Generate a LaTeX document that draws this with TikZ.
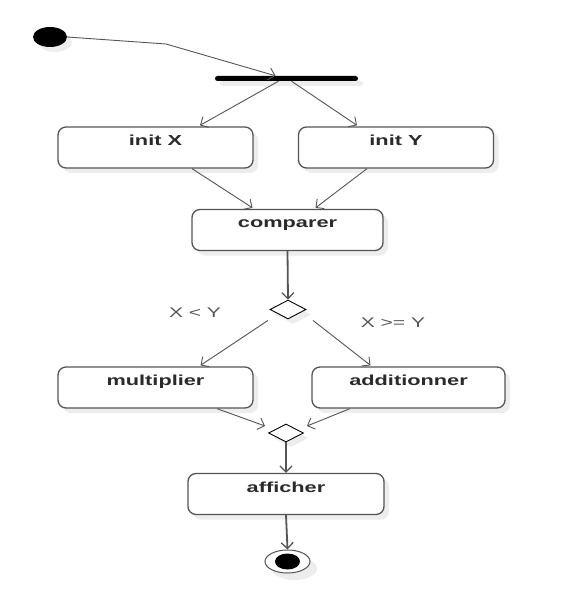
\documentclass[tikz,border=0pt]{standalone}
\usepackage{fontspec}
\usetikzlibrary{shapes.geometric,arrows.meta,calc,shadows}
\newfontfamily\boxfont[FakeStretch=1.5]{Liberation Sans}
\newfontfamily\lblfont[FakeStretch=1.5]{Liberation Sans}
\definecolor{linegray}{HTML}{555555}
\definecolor{txtgray}{HTML}{2A2A2A}
\tikzset{
  shd/.style={drop shadow={shadow xshift=5pt,shadow yshift=-5pt,fill=black,opacity=0.07}},
  actbox/.style={draw=linegray,line width=1.3pt,rounded corners=8pt,fill=white,shd,
    minimum width=195pt,inner sep=0pt,text height=18.5pt,text depth=22.5pt,
    font=\boxfont\bfseries\fontsize{14.5}{15}\selectfont,text=txtgray},
  decis/.style={diamond,draw=black,line width=0.9pt,fill=white,shd,inner sep=0pt,
    minimum width=36pt,minimum height=19pt,aspect=1.9},
  flow/.style={draw=linegray,line width=0.9pt,-{Straight Barb[length=6pt,width=12pt,line width=0.9pt]}},
  flowthick/.style={draw=linegray,line width=1.8pt,-{Straight Barb[length=6pt,width=12pt,line width=1.3pt]}},
  guard/.style={font=\lblfont\fontsize{14}{15}\selectfont,text=txtgray!80}
}
\begin{document}
\begin{tikzpicture}[x=1pt,y=-1pt]
\useasboundingbox[fill=white] (0,0) rectangle (579,609);
% nodes
\node[ellipse,fill=black,minimum width=34pt,minimum height=20pt,inner sep=0pt,shd] (init) at (50,37) {};
\node[rectangle,fill=black,rounded corners=2.5pt,minimum width=143pt,minimum height=5pt,inner sep=0pt,shd] (fork) at (286.5,78.5) {};
\node[actbox] (initX) at (155.5,147.5) {init X};
\node[actbox] (initY) at (396,147.5) {init Y};
\node[actbox,minimum width=191pt] (comparer) at (287.5,230) {comparer};
\node[decis] (dec) at (288,309.5) {};
\node[actbox] (mult) at (155.5,387.5) {multiplier};
\node[actbox,minimum width=193pt] (add) at (408.5,387.5) {additionner};
\node[decis,minimum width=35pt,minimum height=18pt] (merge) at (286,433) {};
\node[actbox,minimum width=196pt] (aff) at (286,494) {afficher};
\node[ellipse,draw=linegray,line width=1pt,fill=white,minimum width=45pt,minimum height=23pt,inner sep=0pt,
  drop shadow={shadow xshift=7pt,shadow yshift=-7pt,fill=black,opacity=0.07}] (final) at (287.5,561.5) {};
\node[ellipse,fill=black,minimum width=25pt,minimum height=16pt,inner sep=0pt] (finaldot) at (final.center) {};
% guards
\node[guard] (lt) at (195,313) {X < Y};
\node[guard] (ge) at (393,323) {X >= Y};
% connectors
\coordinate (bend) at (166,44);
\draw[flow] (init.east) -- (bend) -- ($(fork.north)+(-11,0)$);
\draw[flow] ($(fork.south)+(-8,0)$) -- ($(initX.north)+(44.5,-1)$);
\draw[flow] ($(fork.south)+(5,0)$) -- ($(initY.north)+(-39,-1)$);
\draw[flow] ($(initX.south)+(36.5,0)$) -- ($(comparer.north)+(-35,-1)$);
\draw[flow] ($(initY.south)+(-29,0)$) -- ($(comparer.north)+(28,-1)$);
\draw[flowthick] (comparer.south) -- (dec.north);
\draw[flow] ($(dec.south)+(-20,1)$) -- ($(mult.north)+(45,-1)$);
\draw[flow] ($(dec.south)+(25,1)$) -- ($(add.north)+(-38,-1)$);
\draw[flow] ($(mult.south)+(61.5,0)$) -- ($(merge.west)+(-3,-7)$);
\draw[flow] ($(add.south)+(-58.5,0)$) -- ($(merge.east)+(3,-7)$);
\draw[flowthick] (merge.south) -- (aff.north);
\draw[flowthick] (aff.south) -- (final.north);
\end{tikzpicture}
\end{document}
